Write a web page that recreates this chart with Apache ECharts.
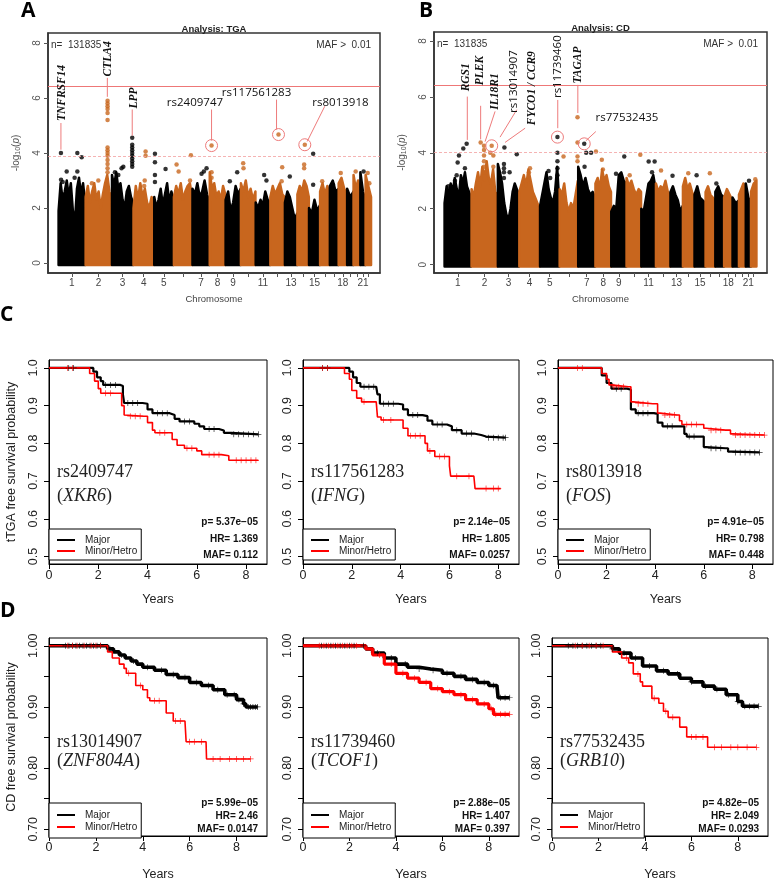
<!DOCTYPE html>
<html>
<head>
<meta charset="utf-8">
<script src="https://cdn.jsdelivr.net/npm/echarts@6/dist/echarts.min.js"></script>
<style>html,body{margin:0;background:#fff}#chart{width:775px;height:882px}</style>
</head>
<body>
<div id="chart"></div>
<script>
// ---------- Manhattan data (A: TGA, B: CD) ----------
// chromosome lengths in Mb
var chromLen = [249, 243, 198, 191, 181, 171, 159, 146, 141, 136, 135, 134, 115, 107, 102, 90, 81, 78, 59, 63, 48, 51];
var chromShown = [1, 2, 3, 4, 5, 7, 8, 9, 11, 13, 15, 18, 21];

// top of the dense point cloud along each chromosome (-log10 p)
var tgaProfile = [
  [1.9, 2.9, 2.3, 2.6, 3.0, 2.4, 2.9, 1.9, 1.5, 2.7, 3.1, 2.5, 2.9, 2.2],
  [2.4, 2.8, 2.2, 2.6, 2.9, 2.3, 2.6, 2.0, 2.5, 2.9, 3.2, 2.6, 2.3],
  [3.2, 2.8, 3.3, 2.7, 2.9, 2.3, 2.0, 2.6, 2.8, 2.4, 2.2],
  [2.0, 2.8, 2.3, 2.9, 2.4, 2.7, 2.2, 2.0, 2.4, 2.1],
  [2.4, 2.0, 2.3, 2.7, 2.1, 2.5, 2.9, 2.2, 2.6, 2.3],
  [2.4, 2.8, 2.5, 2.9, 2.3, 2.6, 2.8, 2.9, 2.4],
  [2.7, 2.5, 2.9, 2.4, 2.6, 3.0, 2.5, 2.2],
  [3.3, 2.7, 2.9, 2.4, 2.6, 2.3, 2.8, 2.5],
  [2.3, 2.6, 1.9, 2.2, 2.8, 2.5, 2.7],
  [2.9, 2.6, 3.0, 2.4, 2.7, 2.3, 2.6],
  [2.2, 2.0, 2.3, 2.1, 2.6, 2.3, 2.2],
  [2.4, 2.8, 2.5, 2.7, 2.9, 2.5, 2.4],
  [2.2, 2.6, 2.4, 2.0, 1.6, 1.8],
  [2.5, 2.8, 2.6, 3.0, 2.8, 2.4],
  [2.0, 1.8, 2.3, 1.9, 2.1],
  [2.6, 2.9, 2.5, 2.8, 2.4],
  [2.8, 3.0, 2.6, 2.7],
  [2.9, 3.1, 2.7, 2.5],
  [2.7, 2.4, 2.6],
  [3.2, 2.7, 3.0, 2.6],
  [3.3, 2.6, 2.3],
  [3.2, 2.8, 2.4]
];
var cdProfile = [
  [2.2, 2.8, 2.5, 2.9, 2.6, 3.1, 2.7, 2.4, 3.2, 2.9, 3.3, 2.8, 2.6, 2.4],
  [2.7, 2.4, 2.9, 3.3, 2.8, 3.5, 3.0, 3.7, 3.1, 2.9, 3.4, 2.6, 2.5],
  [3.6, 3.3, 2.9, 2.2, 1.8, 1.6, 2.0, 2.6, 2.9, 2.7, 2.5],
  [2.6, 2.9, 3.2, 2.8, 3.4, 3.0, 2.6, 2.4, 2.2, 2.0],
  [2.1, 2.5, 2.9, 3.3, 2.7, 2.4, 2.2, 2.6, 3.5, 2.2],
  [2.7, 2.5, 2.9, 2.2, 1.9, 2.2, 2.0, 2.5, 3.0],
  [3.5, 3.2, 2.8, 3.1, 2.7, 2.5, 2.6, 2.4],
  [2.9, 3.1, 2.7, 3.4, 3.0, 3.2, 2.8, 2.6],
  [1.9, 2.1, 2.0, 3.2, 3.3, 3.0, 2.9],
  [3.1, 2.8, 3.0, 2.7, 2.5, 2.7, 2.6],
  [2.0, 1.9, 2.4, 2.9, 3.0, 3.2, 2.7],
  [2.9, 2.6, 2.8, 2.7, 3.0, 2.6, 2.5],
  [2.6, 2.8, 2.5, 2.3, 1.9, 2.1],
  [2.8, 3.1, 2.7, 2.9, 2.6, 2.4],
  [2.5, 2.8, 2.4, 2.3, 2.2],
  [2.6, 2.8, 2.5, 2.4, 2.3],
  [2.6, 2.8, 2.5, 2.4],
  [2.4, 2.7, 2.5, 2.3],
  [2.4, 2.2, 2.3],
  [2.5, 2.7, 2.9, 2.8],
  [2.9, 2.4, 2.2],
  [2.6, 2.9, 3.0]
];

// single SNPs above the cloud: [chromosome, position Mb, -log10 p]
var tgaPoints = [
  [1, 24, 4.0], [1, 175, 4.0], [1, 215, 3.85], [1, 77, 3.33], [1, 25, 3.03], [1, 175, 3.33], [1, 150, 3.1], [1, 40, 2.95],
  [2, 204, 5.9], [2, 204, 5.8], [2, 204, 5.7], [2, 204, 5.6], [2, 204, 5.45], [2, 204, 5.2], [2, 204, 4.2], [2, 204, 4.1],
  [2, 204, 4.0], [2, 204, 3.9], [2, 204, 3.75], [2, 204, 3.6], [2, 204, 3.45], [2, 204, 3.3], [2, 119, 3.0], [2, 60, 2.9],
  [3, 29, 3.3], [3, 106, 3.5], [3, 60, 3.2], [3, 90, 3.45],
  [3, 188, 4.55], [3, 188, 4.3], [3, 188, 4.2], [3, 188, 4.1], [3, 188, 4.0], [3, 188, 3.9], [3, 188, 3.8], [3, 188, 3.7], [3, 188, 3.6], [3, 188, 3.5],
  [4, 113, 4.05], [4, 113, 3.9], [4, 105, 3.0], [4, 100, 2.8],
  [5, 8, 3.97], [5, 8, 3.66], [5, 8, 3.2], [5, 106, 3.42], [5, 8, 2.95],
  [6, 26, 3.58], [6, 158, 3.92], [6, 45, 3.33], [6, 150, 3.0],
  [7, 106, 3.33], [7, 131, 3.45], [7, 85, 3.25],
  [8, 18, 4.27], [8, 18, 3.3], [8, 18, 3.1],
  [9, 108, 3.3], [9, 40, 2.97],
  [10, 22, 3.63], [10, 25, 3.45],
  [11, 79, 3.2], [11, 100, 3.0],
  [12, 76, 4.67], [12, 110, 3.48], [12, 105, 2.97],
  [13, 46, 3.15],
  [14, 69, 4.3], [14, 63, 3.58], [14, 63, 3.45],
  [15, 39, 3.97], [15, 39, 2.85],
  [16, 20, 2.97], [17, 30, 2.85], [18, 20, 3.27], [20, 20, 3.33], [21, 30, 3.33], [22, 20, 3.27], [22, 35, 2.9]
];
var cdPoints = [
  [1, 206, 4.32], [1, 175, 4.15], [1, 135, 3.9], [1, 123, 3.65], [1, 190, 3.45], [1, 114, 3.2], [1, 98, 3.0], [1, 37, 2.8],
  [2, 86, 4.37], [2, 117, 4.25], [2, 117, 4.1], [2, 117, 3.9], [2, 117, 3.7], [2, 117, 3.5], [2, 117, 3.3],
  [2, 188, 4.25], [2, 175, 4.0], [2, 203, 3.9], [2, 203, 3.5], [2, 60, 2.9],
  [3, 62, 4.19], [3, 58, 3.6], [3, 58, 3.45], [3, 58, 3.3], [3, 58, 3.1], [3, 176, 3.95], [3, 110, 3.3],
  [4, 100, 3.45], [4, 90, 3.3], [4, 60, 3.0],
  [5, 162, 4.56], [5, 162, 4.0], [5, 162, 3.7], [5, 162, 3.45], [5, 162, 3.2], [5, 80, 3.35], [5, 95, 3.1],
  [6, 166, 5.27], [6, 166, 4.37], [6, 166, 3.87], [6, 166, 3.7], [6, 37, 3.87],
  [7, 57, 4.32], [7, 75, 4.0], [7, 120, 4.0], [7, 60, 3.5],
  [8, 6, 4.05], [8, 60, 3.75], [8, 70, 3.4],
  [9, 45, 3.25], [9, 121, 3.87],
  [10, 128, 3.93], [10, 30, 3.2],
  [11, 69, 3.69], [11, 124, 3.69], [11, 100, 3.3],
  [12, 48, 3.37], [13, 20, 3.18], [14, 50, 3.27], [15, 20, 3.2], [16, 40, 3.27], [17, 10, 2.9], [21, 30, 3.0], [22, 40, 3.05]
];
var tgaLines = [6.42, 3.9];
var cdLines = [6.4, 4.02];

// ---------- Kaplan-Meier data: [years, survival] ----------
var c1Major = [[0, 1], [1.6, 1], [1.8, 0.99], [1.95, 0.975], [2.1, 0.965], [2.2, 0.955], [2.9, 0.952], [3.0, 0.93], [3.05, 0.907], [3.8, 0.905], [4.0, 0.89], [4.2, 0.88], [4.9, 0.875], [5.1, 0.865], [5.3, 0.858], [5.9, 0.852], [6.1, 0.845], [6.3, 0.838], [6.9, 0.834], [7.1, 0.828], [7.4, 0.824], [8.5, 0.824]];
var c1Minor = [[0, 1], [1.5, 1], [1.65, 0.985], [1.85, 0.965], [2.0, 0.945], [2.1, 0.933], [2.8, 0.933], [2.95, 0.9], [3.05, 0.875], [3.1, 0.872], [3.85, 0.872], [4.0, 0.855], [4.2, 0.835], [4.3, 0.828], [4.85, 0.828], [5.0, 0.81], [5.2, 0.795], [5.5, 0.787], [6.0, 0.78], [6.2, 0.77], [7.0, 0.767], [7.3, 0.755], [8.5, 0.755]];
var c1MajorCens = [0.8, 1.0, 2.3, 2.5, 2.7, 3.2, 3.4, 3.6, 4.4, 4.6, 4.8, 5.5, 5.7, 6.5, 6.7, 7.5, 7.7, 7.9, 8.1, 8.3, 8.5];
var c1MinorCens = [0.75, 0.95, 2.3, 2.5, 3.3, 3.5, 3.7, 4.5, 4.7, 5.6, 5.8, 6.5, 6.7, 6.9, 7.6, 7.8, 8.0, 8.2, 8.4];

var c2Major = [[0, 1], [1.7, 1], [1.9, 0.99], [2.05, 0.975], [2.2, 0.96], [2.35, 0.95], [3.0, 0.95], [3.05, 0.93], [3.15, 0.905], [3.9, 0.903], [4.1, 0.89], [4.3, 0.875], [4.9, 0.872], [5.1, 0.86], [5.3, 0.85], [5.9, 0.845], [6.1, 0.835], [6.5, 0.826], [7.0, 0.822], [7.3, 0.818], [7.5, 0.815], [8.3, 0.815]];
var c2Minor = [[0, 1], [1.5, 1], [1.7, 0.985], [1.9, 0.97], [2.0, 0.94], [2.2, 0.92], [2.4, 0.91], [3.0, 0.91], [3.05, 0.87], [3.2, 0.862], [3.95, 0.862], [4.1, 0.84], [4.3, 0.82], [4.9, 0.82], [5.0, 0.8], [5.1, 0.78], [5.4, 0.765], [5.9, 0.765], [6.0, 0.74], [6.05, 0.713], [7.0, 0.713], [7.05, 0.68], [8.1, 0.68]];
var c2MajorCens = [0.8, 1.0, 2.5, 2.7, 2.9, 3.3, 3.5, 3.7, 4.5, 4.7, 5.5, 5.7, 6.3, 6.7, 6.9, 7.6, 7.8, 8.0, 8.2, 8.3];
var c2MinorCens = [0.8, 1.0, 2.5, 3.3, 3.6, 4.4, 4.6, 4.8, 5.2, 5.6, 5.8, 6.3, 6.8, 7.5, 7.8, 8.0];

var c3Major = [[0, 1], [1.6, 1], [1.8, 0.98], [2.0, 0.96], [2.2, 0.945], [2.85, 0.942], [3.0, 0.89], [3.2, 0.88], [3.95, 0.878], [4.1, 0.855], [4.3, 0.845], [5.0, 0.845], [5.2, 0.825], [5.3, 0.818], [5.8, 0.818], [6.0, 0.79], [6.1, 0.787], [6.9, 0.787], [7.0, 0.778], [7.2, 0.776], [8.3, 0.776]];
var c3Minor = [[0, 1], [1.6, 1], [1.8, 0.985], [2.0, 0.97], [2.1, 0.955], [2.2, 0.95], [2.9, 0.95], [3.0, 0.91], [3.1, 0.905], [3.9, 0.905], [4.1, 0.88], [4.2, 0.875], [4.9, 0.875], [5.0, 0.86], [5.1, 0.85], [5.9, 0.85], [6.0, 0.84], [6.1, 0.835], [6.9, 0.835], [7.1, 0.825], [7.2, 0.822], [8.5, 0.822]];
var c3MajorCens = [2.4, 2.6, 3.3, 3.5, 3.7, 4.5, 4.7, 5.4, 5.6, 6.3, 6.5, 6.7, 7.3, 7.5, 7.7, 7.9, 8.1, 8.3];
var c3MinorCens = [0.8, 1.0, 2.3, 2.5, 2.7, 3.3, 3.5, 3.7, 4.4, 4.6, 4.8, 5.3, 5.5, 5.7, 6.3, 6.5, 6.7, 7.3, 7.5, 7.7, 7.9, 8.1, 8.3, 8.5];

var d1Major = [[0, 1], [2.3, 1], [2.5, 0.995], [2.75, 0.99], [3.0, 0.985], [3.25, 0.98], [3.5, 0.975], [3.75, 0.97], [4.0, 0.965], [4.5, 0.96], [5.0, 0.953], [5.5, 0.948], [6.0, 0.94], [6.5, 0.935], [7.0, 0.928], [7.5, 0.92], [8.0, 0.912], [8.3, 0.905], [8.4, 0.9], [8.9, 0.9]];
var d1Minor = [[0, 1], [2.3, 1], [2.5, 0.99], [2.7, 0.98], [3.0, 0.97], [3.2, 0.963], [3.3, 0.955], [3.6, 0.955], [3.7, 0.935], [4.0, 0.928], [4.2, 0.915], [4.3, 0.91], [4.9, 0.91], [5.0, 0.89], [5.3, 0.877], [5.8, 0.877], [5.85, 0.843], [6.7, 0.843], [6.72, 0.815], [8.6, 0.815]];
var d1MajorCens = [0.7, 0.85, 1.0, 1.15, 1.3, 1.45, 1.6, 1.75, 1.9, 2.05, 2.2, 2.6, 3.1, 3.6, 4.2, 4.8, 5.3, 5.8, 6.3, 6.8, 7.2, 7.6, 7.9, 8.1, 8.3, 8.5, 8.6, 8.7, 8.8, 8.9];
var d1MinorCens = [0.8, 1.0, 1.2, 1.5, 1.8, 2.0, 2.2, 3.4, 3.9, 4.5, 4.7, 5.4, 5.6, 6.0, 6.2, 6.5, 7.0, 7.3, 7.7, 8.0, 8.3, 8.6];

var d2Major = [[0, 1], [2.4, 1], [2.7, 0.995], [3.0, 0.988], [3.5, 0.98], [4.0, 0.97], [4.5, 0.965], [5.0, 0.962], [5.5, 0.96], [6.0, 0.955], [6.5, 0.95], [7.0, 0.945], [7.5, 0.94], [8.0, 0.935], [8.35, 0.932], [8.4, 0.915], [8.9, 0.915]];
var d2Minor = [[0, 1], [2.4, 1], [2.7, 0.995], [3.0, 0.985], [3.5, 0.97], [4.0, 0.955], [4.5, 0.947], [5.0, 0.94], [5.5, 0.93], [6.0, 0.925], [6.5, 0.92], [7.0, 0.912], [7.5, 0.905], [8.0, 0.897], [8.2, 0.888], [8.9, 0.888]];
var d2MajorCens = [0.8, 1.0, 1.2, 1.4, 1.6, 1.8, 2.0, 2.2, 2.6, 3.2, 3.8, 4.4, 5.0, 5.6, 6.2, 6.8, 7.3, 7.8, 8.2, 8.5, 8.7, 8.9];
var d2MinorCens = [0.7, 0.9, 1.1, 1.3, 1.5, 1.7, 1.9, 2.1, 2.3, 3.3, 3.8, 4.3, 4.8, 5.3, 5.8, 6.3, 6.8, 7.3, 7.8, 8.1, 8.3, 8.5, 8.7, 8.9];

var d3Major = [[0, 1], [2.4, 1], [2.6, 0.995], [2.9, 0.988], [3.4, 0.98], [3.9, 0.967], [4.5, 0.959], [5.0, 0.954], [5.5, 0.947], [6.0, 0.941], [6.5, 0.934], [7.0, 0.929], [7.5, 0.92], [8.0, 0.909], [8.2, 0.901], [8.9, 0.901]];
var d3Minor = [[0, 1], [2.3, 1], [2.6, 0.99], [3.0, 0.98], [3.3, 0.972], [3.5, 0.954], [3.8, 0.941], [3.9, 0.934], [4.1, 0.934], [4.3, 0.914], [4.6, 0.906], [4.8, 0.893], [5.0, 0.883], [5.3, 0.883], [5.5, 0.867], [5.8, 0.851], [6.6, 0.851], [6.7, 0.834], [8.8, 0.834]];
var d3MajorCens = [0.7, 0.9, 1.1, 1.3, 1.5, 1.7, 1.9, 2.1, 2.6, 3.1, 3.6, 4.2, 4.8, 5.4, 6.0, 6.6, 7.1, 7.6, 8.0, 8.3, 8.5, 8.7, 8.9];
var d3MinorCens = [1.0, 1.3, 1.6, 1.9, 2.2, 3.2, 3.7, 4.4, 4.9, 5.2, 6.0, 6.2, 6.5, 7.0, 7.3, 7.7, 8.0, 8.4, 8.8];

var kmSnp = ['rs2409747', 'rs117561283', 'rs8013918', 'rs13014907', 'rs11739460', 'rs77532435'];
var kmGene = ['XKR6', 'IFNG', 'FOS', 'ZNF804A', 'TCOF1', 'GRB10'];
var kmP = ['5.37e\u221205', '2.14e\u221205', '4.91e\u221205', '5.99e\u221205', '2.88e\u221205', '4.82e\u221205'];
var kmHR = ['1.369', '1.805', '0.798', '2.46', '1.407', '2.049'];
var kmMAF = ['0.112', '0.0257', '0.448', '0.0147', '0.397', '0.0293'];

// ---------- layout ----------
var ORANGE = '#c8661e';
var NOTE_RED = '#ee7b7b';
var SERIF = '"Liberation Serif", "DejaVu Serif", serif';
var SANS = '"Liberation Sans", Arial, sans-serif';

var chromStart = [];
var acc = 0;
chromLen.forEach(function (l) { chromStart.push(acc); acc += l; });
function chromMid(c) { return chromStart[c - 1] + chromLen[c - 1] / 2; }
var allMids = chromLen.map(function (l, i) { return chromMid(i + 1); });
var shownMids = chromShown.map(chromMid);
function chromLabel(v) {
  for (var i = 0; i < allMids.length; i++) if (Math.abs(allMids[i] - v) < 0.01) return String(i + 1);
  return '';
}
function toAbs(pts) {
  return pts.map(function (p) { return [chromStart[p[0] - 1] + p[1], p[2], p[0]]; });
}

// annotations in data coordinates (Mb, -log10 p)
var tgaNotes = [
  { text: 'TNFRSF14', gene: true, rot: true, at: [31, 6.18], from: [24, 5.09], to: [24, 4.12] },
  { text: 'CTLA4', gene: true, rot: true, at: [460, 7.42], from: [451, 6.73], to: [451, 6.04] },
  { text: 'LPP', gene: true, rot: true, at: [696, 6.0], from: [680, 5.58], to: [680, 4.63] },
  { text: 'rs2409747', at: [1257, 5.84], from: [1410, 5.58], to: [1410, 4.45], ring: [1410, 4.27] },
  { text: 'rs117561283', at: [1824, 6.18], from: [2008, 5.94], to: [2008, 4.85], ring: [2026, 4.67] },
  { text: 'rs8013918', at: [2596, 5.84], from: [2452, 5.7], to: [2290, 4.42], ring: [2268, 4.3] }
];
var cdNotes = [
  { text: 'RGS1', gene: true, rot: true, at: [200, 6.7], from: [212, 6.01], to: [212, 4.46] },
  { text: 'PLEK', gene: true, rot: true, at: [329, 6.94], from: [335, 5.68], to: [335, 4.48] },
  { text: 'IL18R1', gene: true, rot: true, at: [468, 6.19], from: [468, 5.48], to: [376, 4.4] },
  { text: 'rs13014907', rot: true, at: [637, 6.55], from: [668, 5.54], to: [514, 4.56], ring: [437, 4.25] },
  { text: 'FYCO1 / CCR9', gene: true, rot: true, at: [806, 6.31], from: [745, 4.88], to: [560, 4.37] },
  { text: 'rs11739460', rot: true, at: [1046, 7.08], from: [1046, 5.89], to: [1046, 4.88], ring: [1043, 4.56] },
  { text: 'TAGAP', gene: true, rot: true, at: [1231, 7.14], from: [1231, 6.43], to: [1231, 5.42] },
  { text: 'rs77532435', at: [1684, 5.24], from: [1397, 4.76], to: [1305, 4.43], ring: [1290, 4.32] }
];

var manGrids = [
  { left: 48, top: 33, width: 332, height: 240 },
  { left: 434, top: 32, width: 333, height: 241 }
];
var kmGrids = [
  { left: 49, top: 360, width: 218, height: 204 },
  { left: 303, top: 360, width: 216, height: 204 },
  { left: 558, top: 360, width: 215, height: 204 },
  { left: 49, top: 638, width: 218, height: 204 },
  { left: 303, top: 638, width: 216, height: 204 },
  { left: 552, top: 638, width: 216, height: 204 }
];
var kmCurves = [
  [c1Major, c1Minor, c1MajorCens, c1MinorCens],
  [c2Major, c2Minor, c2MajorCens, c2MinorCens],
  [c3Major, c3Minor, c3MajorCens, c3MinorCens],
  [d1Major, d1Minor, d1MajorCens, d1MinorCens],
  [d2Major, d2Minor, d2MajorCens, d2MinorCens],
  [d3Major, d3Minor, d3MajorCens, d3MinorCens]
];

var chart = echarts.init(document.getElementById('chart'));

var grid = [], xAxis = [], yAxis = [], series = [], legend = [], graphic = [];

// ---------- Manhattan panels ----------
function profileSeries(gi, profiles) {
  return {
    type: 'custom', xAxisIndex: gi, yAxisIndex: gi, silent: true, z: 2,
    data: chromLen.map(function (l, i) { return [i]; }),
    renderItem: function (params, api) {
      var i = api.value(0), prof = profiles[i], s = chromStart[i], len = chromLen[i];
      var c = i % 2 === 0 ? '#000' : ORANGE;
      var p0 = api.coord([s + len * 0.01, 0]);
      var pts = [[p0[0], p0[1] + 2]];
      prof.forEach(function (h, k) {
        pts.push(api.coord([s + len * (0.01 + 0.98 * k / (prof.length - 1)), h]));
      });
      var p1 = api.coord([s + len * 0.99, 0]);
      pts.push([p1[0], p1[1] + 2]);
      return { type: 'polygon', shape: { points: pts }, style: { fill: c, stroke: c, lineWidth: 2.5, lineJoin: 'round' } };
    }
  };
}

function noteSeries(gi, notes) {
  return {
    type: 'custom', xAxisIndex: gi, yAxisIndex: gi, silent: true, z: 6,
    data: notes.map(function (n, i) { return [i]; }),
    renderItem: function (params, api) {
      var n = notes[api.value(0)], kids = [];
      var a = api.coord(n.from), b = api.coord(n.to);
      kids.push({ type: 'line', shape: { x1: a[0], y1: a[1], x2: b[0], y2: b[1] }, style: { stroke: NOTE_RED, lineWidth: 1 } });
      if (n.ring) {
        var r = api.coord(n.ring);
        kids.push({ type: 'circle', shape: { cx: r[0], cy: r[1], r: 6 }, style: { fill: 'none', stroke: NOTE_RED, lineWidth: 1 } });
      }
      var t = api.coord(n.at);
      kids.push({
        type: 'text', x: t[0], y: t[1], rotation: n.rot ? Math.PI / 2 : 0,
        style: {
          text: n.text, align: 'center', verticalAlign: 'middle', textAlign: 'center', textVerticalAlign: 'middle',
          fill: '#111', font: n.gene ? 'italic bold 11.5px ' + SERIF : '11.5px "Open Sans", sans-serif'
        }
      });
      return { type: 'group', children: kids };
    }
  };
}

function addManhattan(gi, title, profiles, points, lines, notes, yMin, yMax, xMax) {
  var g = manGrids[gi];
  grid.push({ left: g.left, top: g.top, width: g.width, height: g.height, show: true, borderColor: '#333', borderWidth: 1.5, backgroundColor: '#fff' });
  xAxis.push({
    gridIndex: gi, type: 'value', min: -95, max: xMax,
    axisLine: { show: true, onZero: false, lineStyle: { color: '#333', width: 1.5 } },
    axisTick: { customValues: allMids, length: 4, lineStyle: { color: '#555' } },
    axisLabel: { customValues: shownMids, formatter: chromLabel, fontSize: 10, color: '#444', margin: 5 },
    splitLine: { show: false },
    name: 'Chromosome', nameLocation: 'middle', nameGap: 21, nameTextStyle: { fontSize: 9.5, color: '#444' }
  });
  yAxis.push({
    gridIndex: gi, type: 'value', min: yMin, max: yMax,
    axisLine: { show: true, onZero: false, lineStyle: { color: '#333', width: 1.5 } },
    axisTick: { customValues: [0, 2, 4, 6, 8], length: 4, lineStyle: { color: '#555' } },
    axisLabel: { customValues: [0, 2, 4, 6, 8], rotate: 90, fontSize: 10, color: '#555', margin: 6 },
    splitLine: { show: false },
    name: '-log{s|10}({i|p})', nameLocation: 'middle', nameGap: 26,
    nameTextStyle: { fontSize: 10, color: '#555', rich: { s: { fontSize: 7, color: '#555', padding: [5, 0, 0, 0] }, i: { fontSize: 10, fontStyle: 'italic', color: '#555' } } }
  });
  series.push(profileSeries(gi, profiles));
  series.push({
    type: 'scatter', xAxisIndex: gi, yAxisIndex: gi, symbolSize: 4.5, z: 3, silent: true,
    data: toAbs(points),
    itemStyle: { color: function (p) { return p.data[2] % 2 === 1 ? '#000' : ORANGE; } },
    markLine: {
      silent: true, symbol: 'none', label: { show: false },
      data: [
        { yAxis: lines[0], lineStyle: { color: '#e77', width: 1, type: 'solid' } },
        { yAxis: lines[1], lineStyle: { color: '#f2a0a0', width: 0.8, type: [3, 2] } }
      ]
    }
  });
  series.push(noteSeries(gi, notes));
  graphic.push({ type: 'text', x: g.left + g.width / 2, y: g.top - 4, style: { text: title, font: 'bold 9.5px ' + SANS, fill: '#222', align: 'center', textAlign: 'center', verticalAlign: 'middle', textVerticalAlign: 'middle' } });
  graphic.push({ type: 'text', x: g.left + 3, y: g.top + 12, style: { text: 'n=  131835', font: '10px ' + SANS, fill: '#333', align: 'left', textAlign: 'left', verticalAlign: 'middle', textVerticalAlign: 'middle' } });
  graphic.push({ type: 'text', x: g.left + g.width - 9, y: g.top + 12, style: { text: 'MAF >  0.01', font: '10px ' + SANS, fill: '#333', align: 'right', textAlign: 'right', verticalAlign: 'middle', textVerticalAlign: 'middle' } });
}

addManhattan(0, 'Analysis: TGA', tgaProfile, tgaPoints, tgaLines, tgaNotes, -0.36, 8.36, 2960);
addManhattan(1, 'Analysis: CD', cdProfile, cdPoints, cdLines, cdNotes, -0.3, 8.32, 2975);

// ---------- Kaplan-Meier panels ----------
function survAt(curve, t) {
  var s = curve[0][1];
  for (var k = 0; k < curve.length; k++) if (curve[k][0] <= t) s = curve[k][1];
  return s;
}
var PLUS = 'path://M0,4.4H10V5.6H0Z M4.4,0H5.6V10H4.4Z';

kmGrids.forEach(function (g, k) {
  var gi = k + 2, isC = k < 3;
  var yMin = isC ? 0.48 : 0.689, yMax = isC ? 1.021 : 1.0127;
  var yTicks = isC ? [0.5, 0.6, 0.7, 0.8, 0.9, 1.0] : [0.7, 0.75, 0.8, 0.85, 0.9, 0.95, 1.0];
  var yLabels = isC ? yTicks : [0.7, 0.8, 0.9, 1.0];
  grid.push({ left: g.left, top: g.top, width: g.width, height: g.height, show: true, borderColor: '#000', borderWidth: 1, backgroundColor: '#fff' });
  xAxis.push({
    gridIndex: gi, type: 'value', min: 0, max: isC ? 8.85 : 9.3,
    axisLine: { show: true, onZero: false, lineStyle: { color: '#000' } },
    axisTick: { customValues: [0, 2, 4, 6, 8], length: 5, lineStyle: { color: '#000' } },
    axisLabel: { customValues: [0, 2, 4, 6, 8], fontSize: 12.5, color: '#222', margin: 5 },
    splitLine: { show: false },
    name: 'Years', nameLocation: 'middle', nameGap: isC ? 29 : 32, nameTextStyle: { fontSize: 12.5, color: '#222' }
  });
  yAxis.push({
    gridIndex: gi, type: 'value', min: yMin, max: yMax,
    axisLine: { show: true, onZero: false, lineStyle: { color: '#000' } },
    axisTick: { customValues: yTicks, length: 5, lineStyle: { color: '#000' } },
    axisLabel: { customValues: yLabels, rotate: 90, fontSize: 12.5, color: '#222', margin: 9, formatter: function (v) { return v.toFixed(isC ? 1 : 2); } },
    splitLine: { show: false },
    name: k === 0 ? 'tTGA free survival probability' : (k === 3 ? 'CD free survival probability' : ''),
    nameLocation: 'middle', nameGap: 31, nameTextStyle: { fontSize: 12.5, color: '#222' }
  });
  var cur = kmCurves[k];
  var majW = isC ? 2.2 : 3.6, minW = (k === 4) ? 3.2 : 1.6;
  series.push({ name: 'Major', type: 'line', step: 'end', xAxisIndex: gi, yAxisIndex: gi, showSymbol: false, silent: true, color: '#000', lineStyle: { color: '#000', width: majW }, data: cur[0], z: 3 });
  series.push({ name: 'Minor/Hetro', type: 'line', step: 'end', xAxisIndex: gi, yAxisIndex: gi, showSymbol: false, silent: true, color: '#f00', lineStyle: { color: '#f00', width: minW }, data: cur[1], z: (k === 2 ? 4 : 3) });
  series.push({ type: 'scatter', xAxisIndex: gi, yAxisIndex: gi, symbol: PLUS, symbolSize: 6, silent: true, itemStyle: { color: '#000' }, z: 3,
    data: cur[2].map(function (t) { return [t, survAt(cur[0], t)]; }) });
  series.push({ type: 'scatter', xAxisIndex: gi, yAxisIndex: gi, symbol: PLUS, symbolSize: 6, silent: true, itemStyle: { color: '#f00' }, z: (k === 2 ? 4 : 3),
    data: cur[3].map(function (t) { return [t, survAt(cur[1], t)]; }) });

  legend.push({
    left: g.left, top: isC ? g.top + 169 : g.top + 165, orient: 'vertical', data: ['Major', 'Minor/Hetro'],
    icon: 'rect', itemWidth: 18, itemHeight: 2, itemGap: isC ? 1 : 2, selectedMode: false,
    padding: isC ? [6, 4, 4, 8] : [7, 4, 6, 8], borderColor: '#000', borderWidth: 1, backgroundColor: '#fff',
    textStyle: { fontSize: 10, color: '#222', padding: [0, 0, 0, 5] }
  });

  var sy = isC ? g.top + 112 : g.top + 104, gy = isC ? g.top + 136 : g.top + 123;
  graphic.push({ type: 'text', x: g.left + 8, y: sy, style: { text: kmSnp[k], font: '18px ' + SERIF, fill: '#222', align: 'left', textAlign: 'left', verticalAlign: 'middle', textVerticalAlign: 'middle' } });
  graphic.push({ type: 'text', x: g.left + 8, y: gy, style: { text: '{n|(}{i|' + kmGene[k] + '}{n|)}', font: '18px ' + SERIF, fill: '#222', align: 'left', textAlign: 'left', verticalAlign: 'middle', textVerticalAlign: 'middle',
    rich: { n: { fontSize: 18, fontFamily: SERIF, color: '#222' }, i: { fontSize: 18, fontFamily: SERIF, fontStyle: 'italic', color: '#222' } } } });
  var rx = g.left + g.width - 9;
  var statY = isC ? [g.top + 162, g.top + 179, g.top + 195] : [g.top + 165, g.top + 178, g.top + 191];
  ['p= ' + kmP[k], 'HR= ' + kmHR[k], 'MAF= ' + kmMAF[k]].forEach(function (s, j) {
    graphic.push({ type: 'text', x: rx, y: statY[j], style: { text: s, font: 'bold 10px ' + SANS, fill: '#111', align: 'right', textAlign: 'right', verticalAlign: 'middle', textVerticalAlign: 'middle' } });
  });
});

// panel letters
[['A', 21, 11], ['B', 419, 11], ['C', 0, 315], ['D', 0, 611]].forEach(function (L) {
  graphic.push({ type: 'text', x: L[1], y: L[2], style: { text: L[0], font: 'bold 21px "Open Sans", ' + SANS, fill: '#000', align: 'left', textAlign: 'left', verticalAlign: 'middle', textVerticalAlign: 'middle' } });
});

chart.setOption({
  animation: false,
  backgroundColor: '#fff',
  textStyle: { fontFamily: SANS },
  grid: grid,
  xAxis: xAxis,
  yAxis: yAxis,
  legend: legend,
  series: series,
  graphic: graphic
});
</script>
</body>
</html>
